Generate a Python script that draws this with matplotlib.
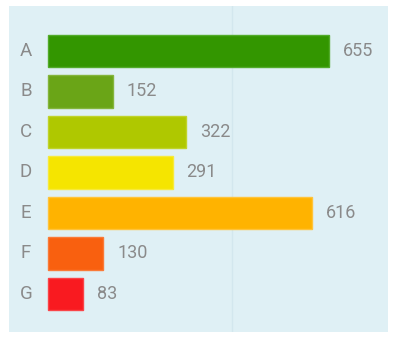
import matplotlib
matplotlib.use("Agg")
import matplotlib.pyplot as plt
from matplotlib import font_manager

categories = ["A", "B", "C", "D", "E", "F", "G"]
values = [655, 152, 322, 291, 616, 130, 83]
bar_colors = ["#339600", "#6aa517", "#afc800", "#f5e500", "#ffb300", "#f9600f", "#f91a20"]
edge_colors = ["#52ab2a", "#84b53c", "#c0d32a", "#f7ea3a", "#ffc33a", "#fa7a38", "#fa4448"]

names = {f.name for f in font_manager.fontManager.ttflist}
family = "Liberation Sans Narrow" if "Liberation Sans Narrow" in names else "Roboto"
plt.rcParams["font.family"] = [family, "DejaVu Sans"]

fig = plt.figure(figsize=(3.93, 3.42), dpi=100)
W, H = 393, 342
ax = fig.add_axes([9 / W, 1 - 332 / H, (388 - 9) / W, (332 - 6) / H])
ax.set_facecolor("#dff0f5")

ypos = list(range(len(categories)))
ax.barh(ypos, values, height=0.8, color=bar_colors, edgecolor=edge_colors,
        linewidth=1, zorder=2)
ax.axvline(429, color="#d3e7ee", linewidth=1, zorder=1)

text_color = "#8a8a8a"
for y, cat, v in zip(ypos, categories, values):
    ax.text(-50.6, y, cat, ha="center", va="center", fontsize=13.5,
            color=text_color)
    ax.annotate(str(v), (v, y), xytext=(10, 0), textcoords="offset points",
                ha="left", va="center", fontsize=13, color=text_color)

ax.set_xlim(-90.2, 793)
ax.set_ylim(6.94, -1.11)
ax.set_xticks([])
ax.set_yticks([])
for s in ax.spines.values():
    s.set_visible(False)

fig.savefig("out.png", dpi=100, facecolor="white")
